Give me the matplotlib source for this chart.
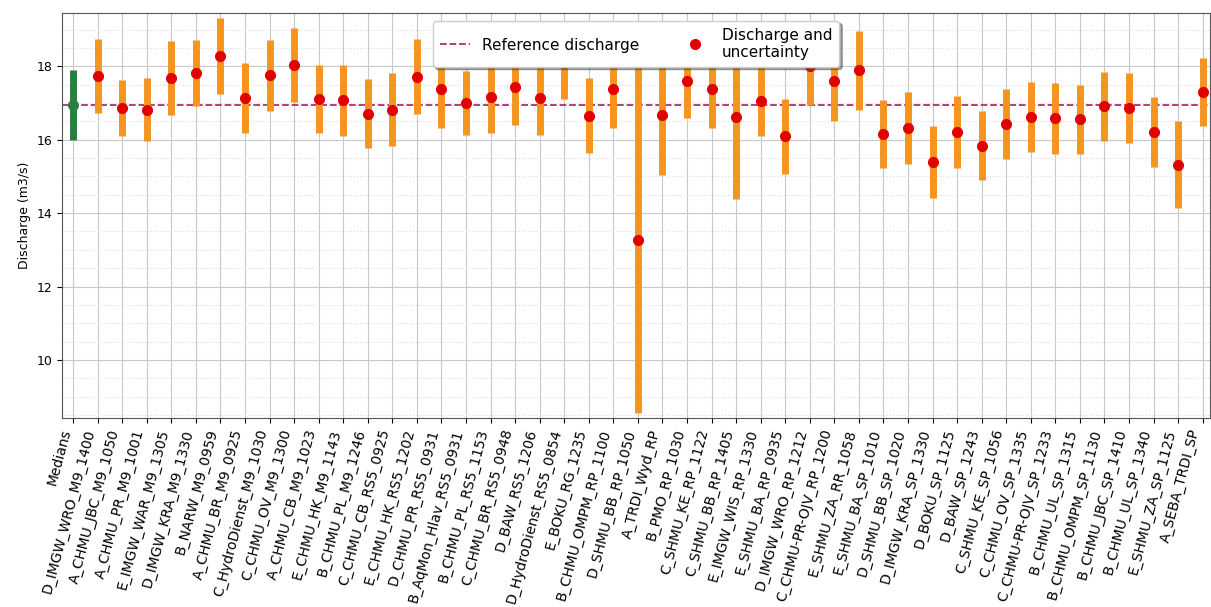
import numpy as np
import matplotlib
matplotlib.use("Agg")
import matplotlib.pyplot as plt
from matplotlib.ticker import MultipleLocator

labels = ["Medians", "D_IMGW_WRO_M9_1400", "A_CHMU_JBC_M9_1050", "A_CHMU_PR_M9_1001",
          "E_IMGW_WAR_M9_1305", "D_IMGW_KRA_M9_1330", "B_NARW_M9_0959", "A_CHMU_BR_M9_0925",
          "C_HydroDienst_M9_1030", "C_CHMU_OV_M9_1300", "A_CHMU_CB_M9_1023", "E_CHMU_HK_M9_1143",
          "B_CHMU_PL_M9_1246", "C_CHMU_CB_RS5_0925", "E_CHMU_HK_RS5_1202", "D_CHMU_PR_RS5_0931",
          "B_AqMon_Hlav_RS5_0931", "B_CHMU_PL_RS5_1153", "C_CHMU_BR_RS5_0948", "D_BAW_RS5_1206",
          "D_HydroDienst_RS5_0854", "E_BOKU_RG_1235", "B_CHMU_OMPM_RP_1100", "D_SHMU_BB_RP_1050",
          "A_TRDI_Wyd_RP", "B_PMO_RP_1030", "C_SHMU_KE_RP_1122", "C_SHMU_BB_RP_1405",
          "E_IMGW_WIS_RP_1330", "E_SHMU_BA_RP_0935", "D_IMGW_WRO_RP_1212", "C_CHMU-PR-OJV_RP_1200",
          "E_SHMU_ZA_RR_1058", "E_SHMU_BA_SP_1010", "D_SHMU_BB_SP_1020", "D_IMGW_KRA_SP_1330",
          "D_BOKU_SP_1125", "D_BAW_SP_1243", "C_SHMU_KE_SP_1056", "C_CHMU_OV_SP_1335",
          "C_CHMU-PR-OJV_SP_1233", "B_CHMU_UL_SP_1315", "B_CHMU_OMPM_SP_1130", "B_CHMU_JBC_SP_1410",
          "B_CHMU_UL_SP_1340", "E_SHMU_ZA_SP_1125", "A_SEBA_TRDI_SP"]

# medians (first column)
median_q = 16.95
median_err = 0.95
ref_q = 16.95

# participants
q = [17.73, 16.86, 16.82, 17.68, 17.82, 18.27, 17.13, 17.75, 18.03, 17.11,
     17.07, 16.71, 16.82, 17.71, 17.38, 17.00, 17.15, 17.44, 17.14, 18.10,
     16.65, 17.39, 13.28, 16.66, 17.61, 17.38, 16.62, 17.06, 16.09, 18.00,
     17.61, 17.89, 16.16, 16.32, 15.39, 16.20, 15.84, 16.43, 16.62, 16.58,
     16.55, 16.91, 16.86, 16.20, 15.32, 17.29]
unc = [1.00, 0.76, 0.85, 1.00, 0.90, 1.03, 0.95, 0.97, 1.00, 0.93,
       0.97, 0.94, 1.00, 1.02, 1.06, 0.86, 0.97, 1.03, 1.00, 1.00,
       1.02, 1.07, 4.72, 1.61, 1.02, 1.06, 2.24, 0.95, 1.03, 1.05,
       1.11, 1.07, 0.93, 0.97, 0.99, 0.98, 0.93, 0.95, 0.96, 0.96,
       0.95, 0.94, 0.96, 0.95, 1.18, 0.93]

x = np.arange(len(labels))

fig = plt.figure(figsize=(12.11, 6.07), dpi=100)
ax = fig.add_axes([0.0512, 0.3114, 0.948, 0.6672])

ax.axhline(ref_q, color="#b0306a", linestyle="--", linewidth=1.3, zorder=2,
           label="Reference discharge")

ax.errorbar(x[0], median_q, yerr=median_err, fmt="o", color="#2a7f3f",
            ecolor="#2a7f3f", elinewidth=5, markersize=7, zorder=3)
ax.errorbar(x[1:], q, yerr=unc, fmt="none", ecolor="#f5941f",
            elinewidth=5, zorder=3)
ax.plot(x[1:], q, "o", color="#e00000", markersize=7, linestyle="none",
        zorder=4, label="Discharge and\nuncertainty")

ax.set_xticks(x)
ax.set_xticklabels(labels, rotation=75, ha="right", fontsize=10)
ax.set_xlim(-0.45, 46.3)
ax.set_ylim(8.42, 19.45)
ax.set_yticks([10, 12, 14, 16, 18])
ax.yaxis.set_minor_locator(MultipleLocator(0.5))
ax.tick_params(axis="y", labelsize=9)
ax.tick_params(which="minor", length=0)
ax.set_ylabel("Discharge (m3/s)", fontsize=9)

ax.grid(which="major", color="#c8c8c8", linewidth=0.8, zorder=0)
ax.grid(which="minor", axis="y", color="#dddddd", linestyle=":", linewidth=0.8, zorder=0)
ax.set_axisbelow(True)
for s in ax.spines.values():
    s.set_color("#555555")

ax.legend(loc="upper center", ncol=2, fontsize=11, framealpha=1, shadow=True,
          columnspacing=2.6, handlelength=2.0, borderpad=0.45)

fig.savefig("out.png", dpi=100)
